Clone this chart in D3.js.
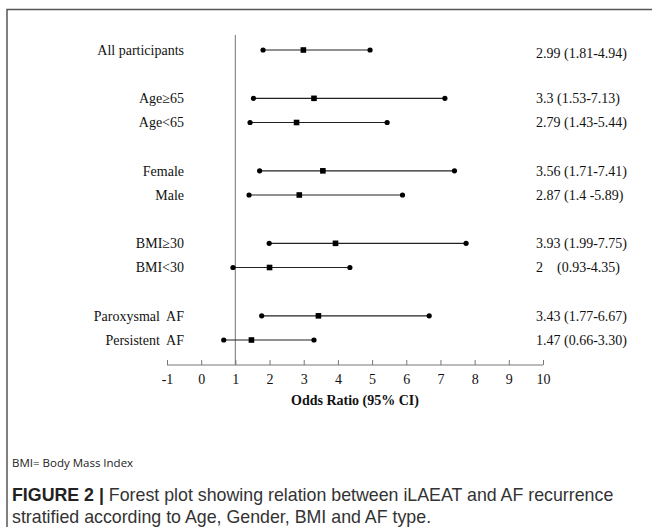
<!DOCTYPE html>
<html>
<head>
<meta charset="utf-8">
<script src="https://cdn.jsdelivr.net/npm/d3@7"></script>
<style>
  body { margin: 0; background: #fff; }
  svg { display: block; }
</style>
</head>
<body>
<svg width="652" height="527"></svg>
<script>
// rows (spacer rows have empty names)
var rows = ["All participants", "", "Age\u226565", "Age<65", "", "Female", "Male", "", "BMI\u226530", "BMI<30", "", "Paroxysmal  AF", "Persistent  AF"];
var oddsRatio = [2.99, null, 3.3, 2.79, null, 3.56, 2.87, null, 3.93, 2, null, 3.43, 1.47];
var lower = [1.81, null, 1.53, 1.43, null, 1.71, 1.4, null, 1.99, 0.93, null, 1.77, 0.66];
var upper = [4.94, null, 7.13, 5.44, null, 7.41, 5.89, null, 7.75, 4.35, null, 6.67, 3.30];
var ciLabels = ["2.99 (1.81-4.94)", "", "3.3 (1.53-7.13)", "2.79 (1.43-5.44)", "", "3.56 (1.71-7.41)", "2.87 (1.4 -5.89)", "", "3.93 (1.99-7.75)", "2    (0.93-4.35)", "", "3.43 (1.77-6.67)", "1.47 (0.66-3.30)"];
var xTicks = [-1, 0, 1, 2, 3, 4, 5, 6, 7, 8, 9, 10];

var svg = d3.select("svg");
var serif = "'Liberation Serif', 'Times New Roman', serif";

// frame (top and left edges only visible)
svg.append("path")
    .attr("d", "M7,527 V9.5 H652")
    .attr("fill", "none")
    .attr("stroke", "#555")
    .attr("stroke-width", 1.5);

var x = d3.scaleLinear().domain([-1, 10]).range([167, 543]);
var keys = rows.map(function (d, i) { return "r" + i; });
var y = d3.scalePoint().domain(keys).range([50, 340]);

var data = rows.map(function (name, i) {
    return { key: keys[i], name: name, or: oddsRatio[i], lo: lower[i], hi: upper[i], label: ciLabels[i] };
}).filter(function (d) { return d.name !== ""; });

var g = svg.append("g");

// reference line at OR = 1
g.append("line")
    .attr("x1", x(1)).attr("x2", x(1))
    .attr("y1", 35).attr("y2", 365)
    .attr("stroke", "#8a8a8a")
    .attr("stroke-width", 1.2);

// axis
var axis = g.append("g")
    .attr("transform", "translate(0,365)")
    .call(d3.axisBottom(x).tickValues(xTicks).tickSize(-5).tickPadding(9).tickFormat(function (d) { return String(d); }));
axis.select(".domain").attr("stroke", "#777").attr("d", "M" + x(-1) + ",0H" + x(10));
axis.selectAll(".tick line").attr("stroke", "#777");
axis.selectAll("text")
    .attr("font-family", serif)
    .attr("font-size", 14)
    .attr("fill", "#111");

g.append("text")
    .attr("x", x(4.5))
    .attr("y", 405)
    .attr("text-anchor", "middle")
    .attr("font-family", serif)
    .attr("font-weight", "bold")
    .attr("font-size", 14)
    .attr("fill", "#111")
    .text("Odds Ratio (95% CI)");

var row = g.selectAll(".row").data(data).enter().append("g")
    .attr("class", "row")
    .attr("transform", function (d) { return "translate(0," + y(d.key) + ")"; });

row.append("line")
    .attr("x1", function (d) { return x(d.lo); })
    .attr("x2", function (d) { return x(d.hi); })
    .attr("stroke", "#222")
    .attr("stroke-width", 1.2);

row.append("circle").attr("cx", function (d) { return x(d.lo); }).attr("r", 2.6).attr("fill", "#000");
row.append("circle").attr("cx", function (d) { return x(d.hi); }).attr("r", 2.6).attr("fill", "#000");
row.append("rect")
    .attr("x", function (d) { return x(d.or) - 2.8; })
    .attr("y", -2.8)
    .attr("width", 5.6).attr("height", 5.6)
    .attr("fill", "#000");

row.append("text")
    .attr("x", 184)
    .attr("dy", "0.35em")
    .attr("text-anchor", "end")
    .attr("font-family", serif)
    .attr("font-size", 14)
    .attr("fill", "#111")
    .style("white-space", "pre")
    .text(function (d) { return d.name; });

row.append("text")
    .attr("x", 536)
    .attr("dy", function (d, i) { return i === 0 ? "0.6em" : "0.35em"; })
    .attr("font-family", serif)
    .attr("font-size", 14)
    .attr("fill", "#111")
    .style("white-space", "pre")
    .text(function (d) { return d.label; });

// footnote
svg.append("text")
    .attr("x", 12).attr("y", 467)
    .attr("font-family", "'Open Sans', 'Liberation Sans', sans-serif")
    .attr("font-size", 11.5)
    .attr("fill", "#222")
    .text("BMI= Body Mass Index");

// caption
var cap = svg.append("text")
    .attr("font-family", "'Liberation Sans', Arial, sans-serif")
    .attr("font-size", 17.8)
    .attr("fill", "#333");
var l1 = cap.append("tspan").attr("x", 12).attr("y", 501);
l1.append("tspan").attr("font-weight", "bold").attr("fill", "#222").text("FIGURE 2 |");
l1.append("tspan").text(" Forest plot showing relation between iLAEAT and AF recurrence");
cap.append("tspan").attr("x", 12).attr("y", 523)
    .text("stratified according to Age, Gender, BMI and AF type.");
</script>
</body>
</html>
